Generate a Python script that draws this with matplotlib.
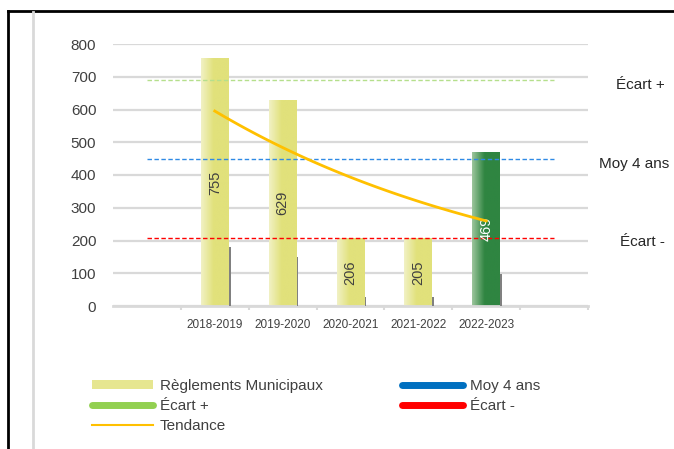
import numpy as np
import matplotlib
matplotlib.use('Agg')
import matplotlib.pyplot as plt
from matplotlib.lines import Line2D
from matplotlib.patches import Patch
from matplotlib.colors import LinearSegmentedColormap

plt.rcParams['font.family'] = ['Liberation Sans', 'DejaVu Sans']

# data
years = ['2018-2019', '2019-2020', '2020-2021', '2021-2022', '2022-2023']
reglements = [755, 629, 206, 205, 469]
small_bars = [180, 150, 27, 27, 98]
moy_4_ans = 449
ecart_plus = 690
ecart_minus = 208

grid_col = '#d9d9d9'
yellow = '#e1e17b'
green = '#2f8541'

fig = plt.figure(figsize=(6.74, 4.49), dpi=100)
ax = fig.add_axes([113 / 674, 1 - 306 / 449, 475 / 674, 262 / 449])

# 7 slots: one empty before and after the data
x = np.arange(1, len(years) + 1)

bars = ax.bar(x, reglements, width=0.41, color='none', zorder=3)
for i, b in enumerate(bars):
    last = i == len(bars) - 1
    main = green if last else yellow
    light = '#9cc59c' if last else '#f1f1c4'
    cmap = LinearSegmentedColormap.from_list('g', [(0, light), (0.45, main), (1, main)])
    grad = np.linspace(0, 1, 64).reshape(1, -1)
    ax.imshow(grad, cmap=cmap, aspect='auto', zorder=2,
              extent=[b.get_x(), b.get_x() + b.get_width(), 0, b.get_height()])
    ax.text(b.get_x() + b.get_width() / 2, b.get_height() / 2, str(reglements[i]),
            rotation=90, ha='center', va='center', fontsize=10.5,
            color='white' if last else '#404040', zorder=5)

ax.bar(x + 0.22, small_bars, width=0.025, color='#808080', zorder=3)

# trend line: exponential fit of the bars (like Excel)
k, c = np.polyfit(x, np.log(reglements), 1)
xt = np.linspace(1, 5, 100)
ax.plot(xt, np.exp(c + k * xt), color='#ffc000', lw=2, zorder=6)

# reference lines
ax.plot([0, 6], [ecart_plus] * 2, color='#b5df8c', lw=1, dashes=(3.2, 1.8), zorder=4)
ax.plot([0, 6], [moy_4_ans] * 2, color='#2f8ae5', lw=1, dashes=(3.2, 1.8), zorder=4)
ax.plot([0, 6], [ecart_minus] * 2, color='#ff0000', lw=1, dashes=(3.2, 1.8), zorder=4)

tr = ax.get_yaxis_transform()
ax.text(1.11, ecart_plus - 14, 'Écart +', transform=tr, ha='center', va='center', fontsize=11, color='#262626')
ax.text(1.098, moy_4_ans - 14, 'Moy 4 ans', transform=tr, ha='center', va='center', fontsize=11, color='#262626')
ax.text(1.114, ecart_minus - 14, 'Écart -', transform=tr, ha='center', va='center', fontsize=11, color='#262626')

ax.set_xlim(-0.5, 6.5)
ax.set_ylim(0, 800)
ax.set_yticks(range(0, 801, 100))
ax.yaxis.grid(True, color=grid_col, lw=1.6)
ax.set_axisbelow(True)
ax.set_xticks(x)
ax.set_xticklabels(years, fontsize=8.5, color='#404040')
ax.set_xticks(np.arange(0.5, 7, 1), minor=True)
ax.tick_params(axis='x', which='major', length=0, pad=9)
ax.tick_params(axis='x', which='minor', length=3, color=grid_col, width=1.5)
ax.tick_params(axis='y', length=0, pad=12, labelsize=11, labelcolor='#404040')
for s in ['top', 'right', 'left']:
    ax.spines[s].set_visible(False)
ax.spines['bottom'].set_color(grid_col)
ax.spines['bottom'].set_linewidth(2)

handles = [
    Patch(facecolor='#e6e690', edgecolor='none'),
    Line2D([], [], color='#92d050', lw=5, solid_capstyle='round'),
    Line2D([], [], color='#ffc000', lw=1.5),
    Line2D([], [], color='#0070c0', lw=5, solid_capstyle='round'),
    Line2D([], [], color='#ff0000', lw=5, solid_capstyle='round'),
]
labels = ['Règlements Municipaux', 'Écart +', 'Tendance', 'Moy 4 ans', 'Écart -']
fig.legend(handles, labels, loc='upper left', bbox_to_anchor=(92 / 674, 1 - 379 / 449),
           ncol=2, frameon=False, fontsize=11, handlelength=4.0, handleheight=0.5,
           handletextpad=0.45, labelspacing=0.38, columnspacing=5.2, borderpad=0,
           borderaxespad=0, labelcolor='#404040')

# frame lines of the original picture
fig.add_artist(Line2D([8 / 674, 1], [1 - 11 / 449] * 2, color='black', lw=2, transform=fig.transFigure))
fig.add_artist(Line2D([8 / 674] * 2, [0, 1 - 11 / 449], color='black', lw=2, transform=fig.transFigure))
fig.add_artist(Line2D([33 / 674] * 2, [0, 1 - 12 / 449], color=grid_col, lw=2, transform=fig.transFigure))

fig.savefig('out.png', dpi=100)
